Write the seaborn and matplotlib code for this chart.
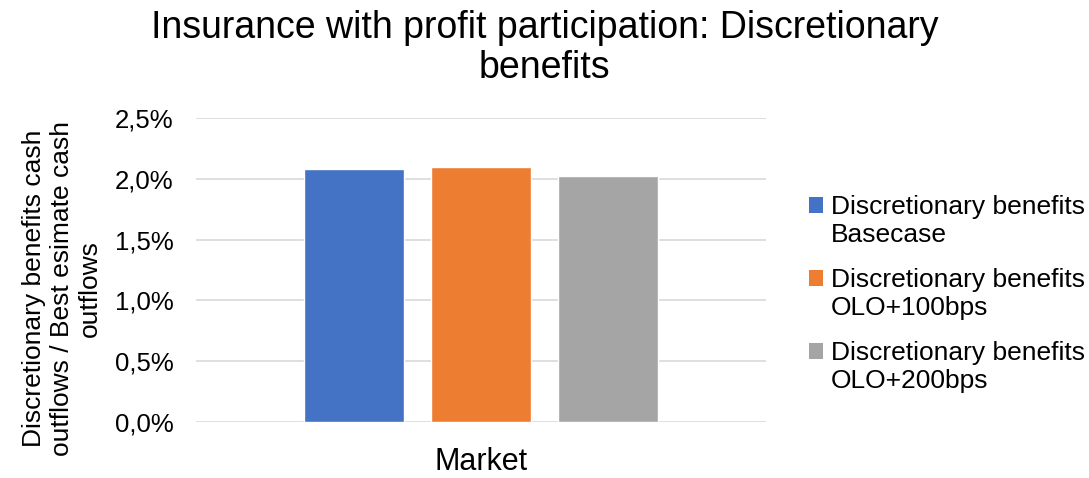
import matplotlib
matplotlib.use("Agg")
import matplotlib.pyplot as plt
import seaborn as sns
import pandas as pd
from matplotlib.ticker import FuncFormatter, MultipleLocator
from matplotlib.patches import Patch, Rectangle
from matplotlib.legend_handler import HandlerPatch

categories = ["Market"]
series = ["Discretionary benefits\nBasecase",
          "Discretionary benefits\nOLO+100bps",
          "Discretionary benefits\nOLO+200bps"]
values = [0.0208, 0.0210, 0.0202]
colors = ["#4472C4", "#ED7D31", "#A5A5A5"]

sns.set_theme(style="white")
plt.rcParams['font.family'] = ['Liberation Sans', 'DejaVu Sans']

df = pd.DataFrame({"cat": categories * len(series), "series": series, "val": values})

fig = plt.figure(figsize=(10.89, 4.78), dpi=100)
ax = fig.add_axes([196/1089, 56/478, 570/1089, 304/478])
sns.barplot(data=df, x="cat", y="val", hue="series", palette=colors,
            width=0.666, gap=0.21, ax=ax, legend=False, saturation=1)

ax.set_ylim(0, 0.025)
ax.set_xlim(-0.5, 0.5)
ax.yaxis.set_major_locator(MultipleLocator(0.005))
ax.yaxis.set_major_formatter(FuncFormatter(lambda v, p: f"{v*100:.1f}%".replace(".", ",")))
ax.grid(axis="y", color="#D9D9D9", linewidth=1.2)
ax.set_axisbelow(True)
for s in ax.spines.values():
    s.set_visible(False)
ax.tick_params(axis="y", length=0, labelsize=18.5, colors="#000000", pad=16)
ax.tick_params(axis="x", length=0, labelsize=22, colors="#000000", pad=18)
ax.set_xlabel("")
ax.set_ylabel("Discretionary benefits cash\noutflows / Best esimate cash\noutflows",
              fontsize=19, color="#000000", linespacing=1.2)
ax.yaxis.set_label_coords(-0.165, 0.44)

fig.suptitle("Insurance with profit participation: Discretionary\nbenefits",
             fontsize=27, x=0.5, y=0.98, color="#000000", linespacing=1.15)


def top_aligned(legend, orig_handle, xdescent, ydescent, width, height, fontsize):
    return Rectangle((-xdescent, -ydescent + 0.6 * fontsize), width, height)


handles = [Patch(facecolor=c, edgecolor="none") for c in colors]
fig.legend(handles, series, loc="center left", bbox_to_anchor=(785/1089, 0.385),
           frameon=False, fontsize=19, handlelength=0.55, handleheight=0.55,
           handletextpad=0.3, labelspacing=0.8, labelcolor="#000000",
           handler_map={Patch: HandlerPatch(patch_func=top_aligned)})

fig.savefig("out.png", dpi=100)
